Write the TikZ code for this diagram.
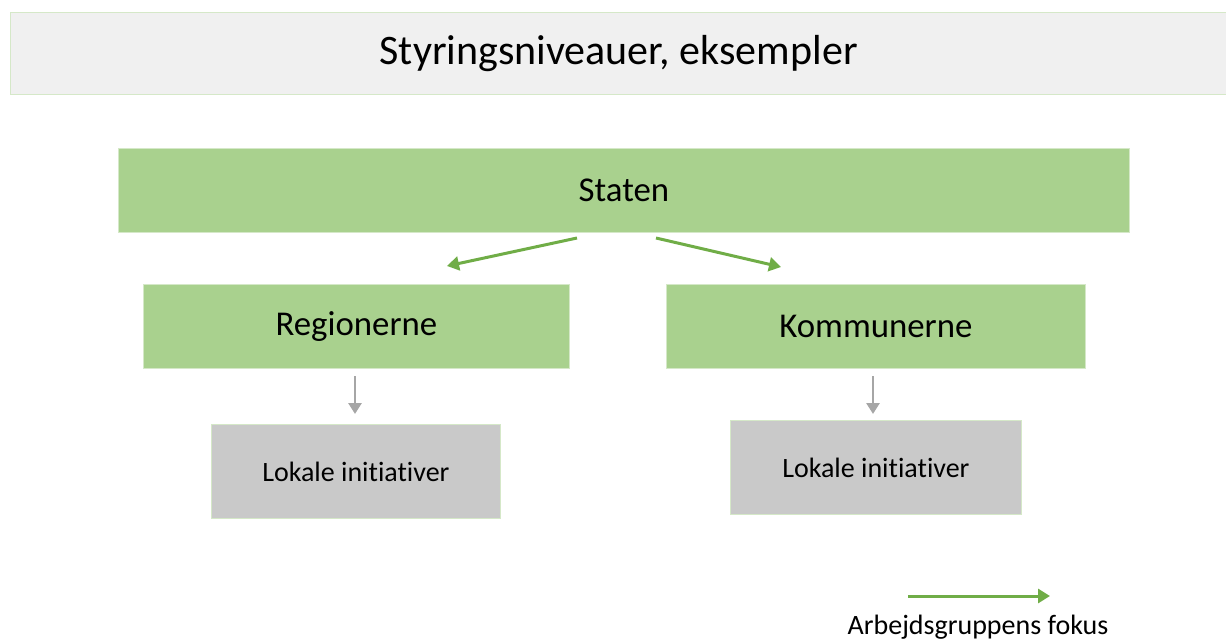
\documentclass[tikz,border=0pt]{standalone}
\usepackage{fontspec}
\setmainfont[Ligatures=NoCommon]{Carlito}
\usetikzlibrary{arrows.meta}
\definecolor{boxgreen}{HTML}{A9D18E}
\definecolor{edgegreen}{HTML}{D5E8C8}
\definecolor{titlegray}{HTML}{F0F0F0}
\definecolor{localgray}{HTML}{C9C9C9}
\definecolor{arrowgreen}{HTML}{70AD47}
\definecolor{arrowgray}{HTML}{A6A6A6}
\begin{document}
\begin{tikzpicture}[x=1pt,y=-1pt,
  greenbox/.style={fill=boxgreen,draw=edgegreen,line width=0.8pt,inner sep=0pt,font=\fontsize{34.8}{38}\selectfont},
  localbox/.style={fill=localgray,draw=edgegreen,line width=0.8pt,inner sep=0pt,font=\fontsize{28}{32}\selectfont},
  focusarrow/.style={draw=arrowgreen,line width=3pt,-{Triangle[length=12pt,width=14pt]}},
  grayarrow/.style={draw=arrowgray,line width=2.8pt,-{Triangle[length=11pt,width=13pt]}}]
\useasboundingbox (0,0) rectangle (1226,640);
\node[fill=titlegray,draw=edgegreen,line width=1.2pt,minimum width=1216pt,minimum height=82pt,inner sep=0pt,anchor=north west,font=\fontsize{42}{46}\selectfont] (title) at (10,12) {Styringsniveauer, eksempler};
\node[greenbox,minimum width=1011pt,minimum height=84pt,anchor=north west] (staten) at (118,148) {Staten};
\node[greenbox,minimum width=426pt,minimum height=84pt,anchor=north west] (reg) at (143,284) {Regionerne};
\node[greenbox,minimum width=419pt,minimum height=84pt,anchor=north west] (kom) at (666,284) {Kommunerne};
\node[localbox,minimum width=289pt,minimum height=94pt,anchor=north west] (lok1) at (211,424) {Lokale initiativer};
\node[localbox,minimum width=291pt,minimum height=94pt,anchor=north west] (lok2) at (730,420) {Lokale initiativer};
\coordinate (s1) at (577,238);
\coordinate (e1) at (447,266);
\coordinate (s2) at (656,238);
\coordinate (e2) at (781,267);
\draw[focusarrow] (s1) -- (e1);
\draw[focusarrow] (s2) -- (e2);
\coordinate (g1s) at (355,376);
\coordinate (g1e) at (355,414);
\coordinate (g2s) at (873,376);
\coordinate (g2e) at (873,414);
\draw[grayarrow] (g1s) -- (g1e);
\draw[grayarrow] (g2s) -- (g2e);
\coordinate (ls) at (908,596);
\coordinate (le) at (1050,596);
\draw[focusarrow] (ls) -- (le);
\node[font=\fontsize{28}{32}\selectfont,inner sep=0pt,anchor=base] (legend) at (978,634) {Arbejdsgruppens fokus};
\end{tikzpicture}
\end{document}
